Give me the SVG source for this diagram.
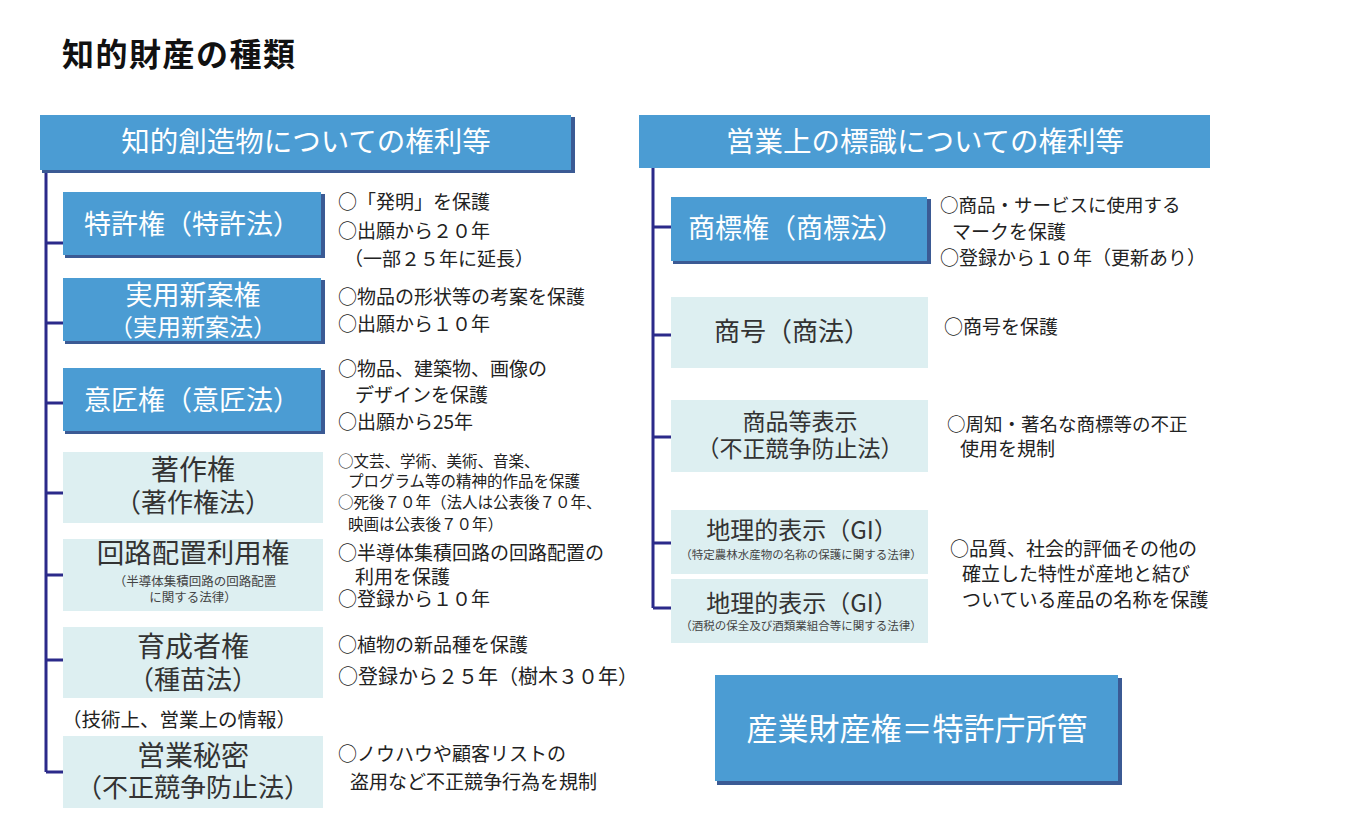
<svg xmlns="http://www.w3.org/2000/svg" width="1362" height="834" viewBox="0 0 1362 834">
<style>
text{font-family:"Noto Sans CJK JP","Noto Sans",sans-serif;}
.title{font-size:32px;font-weight:bold;fill:#111;letter-spacing:1.5px;}
.hdr{fill:#4B9CD3;}
.shadow{fill:#3B5A94;}
.blue{fill:#4B9CD3;}
.light{fill:#DDEFF1;}
.ht{font-size:28.5px;fill:#fff;text-anchor:middle;}
.bt{font-size:27px;fill:#fff;text-anchor:middle;}
.lt{font-size:26px;fill:#333;text-anchor:middle;}
.sm{font-size:12.5px;fill:#444;text-anchor:middle;}
.d{font-size:19px;fill:#222;}
.ds{font-size:15.5px;fill:#222;}
.conn{stroke:#2B2A8A;stroke-width:3;fill:none;}
</style>
<rect x="0" y="0" width="1362" height="834" fill="#fff"/>
<text class="title" x="62" y="66">知的財産の種類</text>

<g id="connectors">
<path class="conn" d="M46 170 V772 M46 243 H63 M46 323 H63 M46 403 H63 M46 493 H63 M46 575 H63 M46 660 H63 M46 772 H63"/>
<path class="conn" d="M653 168 V608 M653 227 H671 M653 335 H671 M653 437 H671 M653 543 H671 M653 608 H671"/>
</g>

<g id="hdr-left">
<rect class="shadow" x="42" y="117" width="533" height="56"/>
<rect class="hdr" x="40" y="115" width="531" height="55"/>
<text class="ht" x="306" y="152">知的創造物についての権利等</text>
</g>
<g id="hdr-right">
<rect class="hdr" x="639" y="115" width="571" height="53"/>
<text class="ht" x="925" y="152">営業上の標識についての権利等</text>
</g>

<g id="tokkyo">
<rect class="shadow" x="65" y="194" width="260" height="64"/>
<rect class="blue" x="63" y="192" width="258" height="63"/>
<text class="bt" x="192" y="234">特許権（特許法）</text>
<text class="d" x="338" y="209">○「発明」を保護</text>
<text class="d" x="338" y="238">○出願から２０年</text>
<text class="d" x="344" y="266">（一部２５年に延長）</text>
</g>

<g id="jitsuyo">
<rect class="shadow" x="65" y="280" width="260" height="64"/>
<rect class="blue" x="63" y="278" width="258" height="63"/>
<text class="bt" x="193" y="305">実用新案権</text>
<text class="bt" x="193" y="336" style="font-size:24px">（実用新案法）</text>
<text class="d" x="338" y="304">○物品の形状等の考案を保護</text>
<text class="d" x="338" y="331">○出願から１０年</text>
</g>

<g id="isho">
<rect class="shadow" x="65" y="370" width="260" height="64"/>
<rect class="blue" x="63" y="368" width="258" height="63"/>
<text class="bt" x="192" y="410">意匠権（意匠法）</text>
<text class="d" x="338" y="376">○物品、建築物、画像の</text>
<text class="d" x="355" y="402">デザインを保護</text>
<text class="d" x="338" y="429">○出願から25年</text>
</g>

<g id="chosaku">
<rect class="light" x="63" y="452" width="260" height="71"/>
<text class="lt" x="193" y="480" style="font-size:28px">著作権</text>
<text class="lt" x="193" y="512">（著作権法）</text>
<text class="ds" x="338" y="467">○文芸、学術、美術、音楽、</text>
<text class="ds" x="348" y="487">プログラム等の精神的作品を保護</text>
<text class="ds" x="338" y="508">○死後７０年（法人は公表後７０年、</text>
<text class="ds" x="348" y="530">映画は公表後７０年）</text>
</g>

<g id="kairo">
<rect class="light" x="63" y="539" width="260" height="72"/>
<text class="lt" x="193" y="563" style="font-size:27.5px">回路配置利用権</text>
<text class="sm" x="195" y="586">（半導体集積回路の回路配置</text>
<text class="sm" x="193" y="602">に関する法律）</text>
<text class="d" x="338" y="560">○半導体集積回路の回路配置の</text>
<text class="d" x="355" y="584">利用を保護</text>
<text class="d" x="338" y="606">○登録から１０年</text>
</g>

<g id="ikusei">
<rect class="light" x="63" y="627" width="260" height="71"/>
<text class="lt" x="193" y="657" style="font-size:28px">育成者権</text>
<text class="lt" x="193" y="689">（種苗法）</text>
<text class="d" x="338" y="652">○植物の新品種を保護</text>
<text class="d" x="338" y="684" style="font-size:20px">○登録から２５年（樹木３０年）</text>
</g>

<g id="eigyo-himitsu">
<text class="d" x="62" y="727" style="font-size:19.5px">（技術上、営業上の情報）</text>
<rect class="light" x="63" y="736" width="260" height="72"/>
<text class="lt" x="193" y="766" style="font-size:28px">営業秘密</text>
<text class="lt" x="193" y="797">（不正競争防止法）</text>
<text class="d" x="338" y="761">○ノウハウや顧客リストの</text>
<text class="d" x="350" y="789">盗用など不正競争行為を規制</text>
</g>

<g id="shohyo">
<rect class="shadow" x="673" y="199" width="258" height="65"/>
<rect class="blue" x="671" y="197" width="256" height="64"/>
<text class="bt" x="796" y="238">商標権（商標法）</text>
<text class="d" x="940" y="212" style="font-size:18.5px">○商品・サービスに使用する</text>
<text class="d" x="952" y="239">マークを保護</text>
<text class="d" x="940" y="265">○登録から１０年（更新あり）</text>
</g>

<g id="shogo">
<rect class="light" x="671" y="297" width="257" height="71"/>
<text class="lt" x="792" y="341">商号（商法）</text>
<text class="d" x="944" y="334">○商号を保護</text>
</g>

<g id="shohin-hyoji">
<rect class="light" x="671" y="400" width="257" height="72"/>
<text class="lt" x="800" y="430" style="font-size:23px">商品等表示</text>
<text class="lt" x="800" y="457" style="font-size:23px">（不正競争防止法）</text>
<text class="d" x="947" y="431" style="font-size:18.5px">○周知・著名な商標等の不正</text>
<text class="d" x="960" y="456">使用を規制</text>
</g>

<g id="gi1">
<rect class="light" x="671" y="510" width="257" height="64"/>
<text class="lt" x="802" y="539" style="font-size:24px">地理的表示（GI）</text>
<text class="sm" x="801" y="559" style="font-size:11.5px">（特定農林水産物の名称の保護に関する法律）</text>
</g>

<g id="gi2">
<rect class="light" x="671" y="579" width="257" height="64"/>
<text class="lt" x="802" y="612" style="font-size:24px">地理的表示（GI）</text>
<text class="sm" x="801" y="630" style="font-size:11.5px">（酒税の保全及び酒類業組合等に関する法律）</text>
</g>

<g id="gi-desc">
<text class="d" x="950" y="556">○品質、社会的評価その他の</text>
<text class="d" x="962" y="581">確立した特性が産地と結び</text>
<text class="d" x="962" y="607">ついている産品の名称を保護</text>
</g>

<g id="sangyo">
<rect class="shadow" x="717" y="678" width="405" height="107"/>
<rect class="blue" x="715" y="675" width="403" height="106"/>
<text class="bt" x="917" y="740" style="font-size:31px">産業財産権＝特許庁所管</text>
</g>
</svg>
